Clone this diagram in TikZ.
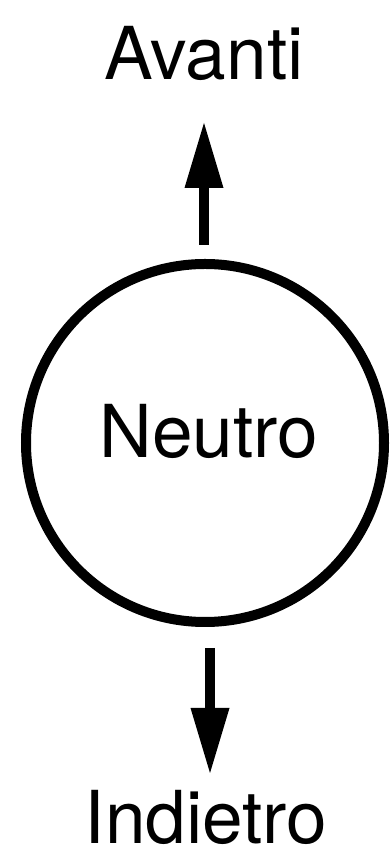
\documentclass[tikz,border=0pt]{standalone}
\usepackage{fontspec}
\setmainfont{TeX Gyre Heros}
\usetikzlibrary{arrows.meta}
\begin{document}
\begin{tikzpicture}[x=1pt,y=1pt,
  lbl/.style={anchor=base,inner sep=0pt,font=\fontsize{73}{80}\selectfont},
  ring/.style={circle,draw=black,line width=10pt,inner sep=0pt,outer sep=0pt,minimum size=358pt},
  arr/.style={line width=10pt,-{Triangle[length=65pt,width=39pt,line width=0pt]}}]
\useasboundingbox (0,0) rectangle (389,861);
\node[ring] (c) at (205,418) {};
\node[lbl] (neutro) at (209,403) {Neutro};
\node[lbl] (avanti) at (204,781) {Avanti};
\node[lbl] (indietro) at (206,17) {Indietro};
\coordinate (upstart) at (204,616);
\coordinate (uptip) at (204,738);
\coordinate (dnstart) at (210,213);
\coordinate (dntip) at (210,88);
\draw[arr] (upstart) -- (uptip);
\draw[arr] (dnstart) -- (dntip);
\end{tikzpicture}
\end{document}
